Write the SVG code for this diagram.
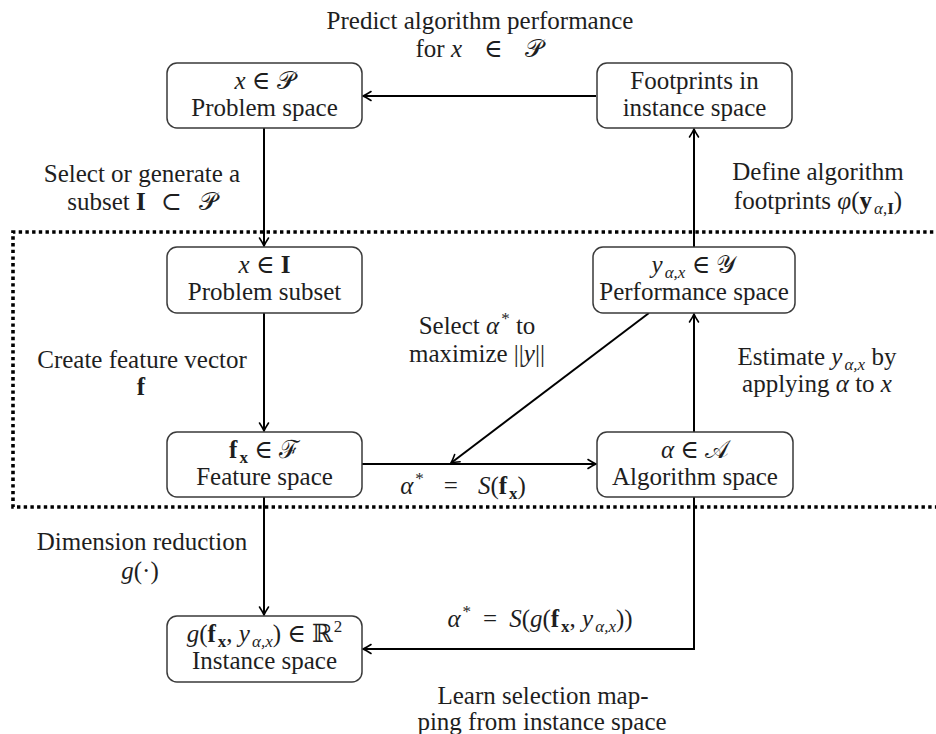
<svg xmlns="http://www.w3.org/2000/svg" width="936" height="734" viewBox="0 0 936 734">
<defs>
<style>
.box{fill:#fff;stroke:#3a3a3a;stroke-width:1.5}
.t{font-family:'Liberation Serif','Times New Roman','DejaVu Serif',serif;font-size:25px;fill:#1e1e1e;text-anchor:middle}
.i{font-style:italic}
.b{font-weight:bold}
.s{font-size:17px}
.c{stroke:#000;stroke-width:2;fill:none;marker-end:url(#arr)}
.dot{stroke:#000;stroke-width:3.6;stroke-dasharray:3.4 3.3;fill:none}
</style>
<marker id="arr" markerUnits="userSpaceOnUse" viewBox="-10 -6 12 12" refX="0" refY="0" markerWidth="12" markerHeight="12" orient="auto" overflow="visible">
<path d="M -8 -4.5 C -5 -2.5 -2 -0.8 0 0 C -2 0.8 -5 2.5 -8 4.5" fill="none" stroke="#000" stroke-width="1.6" stroke-linecap="round"/>
</marker>
</defs>
<rect width="936" height="734" fill="#fff"/>

<g id="frame">
<path class="dot" d="M 940 232 H 13 V 507 H 940"/>
</g>

<g id="connectors">
<line class="c" x1="596" y1="96" x2="363" y2="96"/>
<line class="c" x1="264" y1="128" x2="264" y2="246"/>
<line class="c" x1="264" y1="313" x2="264" y2="431"/>
<line class="c" x1="362" y1="464" x2="596" y2="464"/>
<line class="c" x1="694" y1="432" x2="694" y2="314"/>
<line class="c" x1="694" y1="247" x2="694" y2="129"/>
<line class="c" x1="649" y1="313" x2="451" y2="463"/>
<line class="c" x1="264" y1="497" x2="264" y2="615"/>
<path class="c" d="M 694 497 V 649 H 363"/>
</g>

<g id="labels">
<text class="t" x="480" y="29">Predict algorithm performance</text>
<text class="t" x="479" y="57">for <tspan class="i">x</tspan><tspan dx="22">∈</tspan><tspan dx="22">𝒫</tspan></text>
<text class="t" x="142" y="182">Select or generate a</text>
<text class="t" x="142" y="210">subset <tspan class="b">I</tspan><tspan dx="15">⊂</tspan><tspan dx="17">𝒫</tspan></text>
<text class="t" x="818" y="180">Define algorithm</text>
<text class="t" x="818" y="209">footprints <tspan class="i">φ</tspan>(<tspan class="b">y</tspan><tspan class="s" dx="2" dy="5"><tspan class="i">α</tspan>,<tspan class="b">I</tspan></tspan><tspan dy="-5">)</tspan></text>
<text class="t" x="142" y="368">Create feature vector</text>
<text class="t b" x="141" y="395">f</text>
<text class="t" x="477" y="334">Select <tspan class="i">α</tspan><tspan class="s" dx="2" dy="-10">*</tspan><tspan dy="10"> to</tspan></text>
<text class="t" x="477" y="362">maximize ||<tspan class="i">y</tspan>||</text>
<text class="t" x="817" y="365">Estimate <tspan class="i">y</tspan><tspan class="s i" dx="2" dy="5">α,x</tspan><tspan dy="-5"> by</tspan></text>
<text class="t" x="817" y="392">applying <tspan class="i">α</tspan> to <tspan class="i">x</tspan></text>
<text class="t" x="463" y="494"><tspan class="i">α</tspan><tspan class="s" dx="2" dy="-10">*</tspan><tspan dx="20" dy="10">=</tspan><tspan class="i" dx="20">S</tspan>(<tspan class="b">f</tspan><tspan class="s b" dx="2" dy="5">x</tspan><tspan dy="-5">)</tspan></text>
<text class="t" x="142" y="550">Dimension reduction</text>
<text class="t" x="140" y="579"><tspan class="i">g</tspan>(·)</text>
<text class="t" x="540" y="627"><tspan class="i">α</tspan><tspan class="s" dx="2" dy="-10">*</tspan><tspan dx="12" dy="10">=</tspan><tspan class="i" dx="12">S</tspan>(<tspan class="i">g</tspan>(<tspan class="b">f</tspan><tspan class="s b" dx="2" dy="5">x</tspan><tspan dy="-5">, </tspan><tspan class="i">y</tspan><tspan class="s i" dx="2" dy="5">α,x</tspan><tspan dy="-5">))</tspan></text>
<text class="t" x="543" y="704">Learn selection map-</text>
<text class="t" x="542" y="730">ping from instance space</text>
</g>

<g id="problem-space">
<rect class="box" x="167" y="63" width="195" height="65" rx="10"/>
<text class="t" x="264.5" y="89"><tspan class="i">x</tspan> ∈ 𝒫</text>
<text class="t" x="264.5" y="116">Problem space</text>
</g>

<g id="footprints">
<rect class="box" x="597" y="63" width="195" height="65" rx="10"/>
<text class="t" x="694.5" y="89">Footprints in</text>
<text class="t" x="694.5" y="116">instance space</text>
</g>

<g id="problem-subset">
<rect class="box" x="167" y="247" width="195" height="66" rx="10"/>
<text class="t" x="264.5" y="273"><tspan class="i">x</tspan> ∈ <tspan class="b">I</tspan></text>
<text class="t" x="264.5" y="300">Problem subset</text>
</g>

<g id="performance-space">
<rect class="box" x="593" y="247" width="202" height="66" rx="10"/>
<text class="t" x="694" y="273"><tspan class="i">y</tspan><tspan class="s i" dx="2" dy="5">α,x</tspan><tspan dy="-5"> ∈ 𝒴</tspan></text>
<text class="t" x="694" y="300">Performance space</text>
</g>

<g id="feature-space">
<rect class="box" x="167" y="432" width="195" height="65" rx="10"/>
<text class="t" x="264.5" y="458"><tspan class="b">f</tspan><tspan class="s b" dx="2" dy="5">x</tspan><tspan dy="-5"> ∈ ℱ</tspan></text>
<text class="t" x="264.5" y="485">Feature space</text>
</g>

<g id="algorithm-space">
<rect class="box" x="597" y="432" width="196" height="65" rx="10"/>
<text class="t" x="695" y="458"><tspan class="i">α</tspan> ∈ 𝒜</text>
<text class="t" x="695" y="485">Algorithm space</text>
</g>

<g id="instance-space">
<rect class="box" x="167" y="616" width="195" height="66" rx="10"/>
<text class="t" x="264.5" y="642"><tspan class="i">g</tspan>(<tspan class="b">f</tspan><tspan class="s b" dx="2" dy="5">x</tspan><tspan dy="-5">, </tspan><tspan class="i">y</tspan><tspan class="s i" dx="2" dy="5">α,x</tspan><tspan dy="-5">) ∈ ℝ</tspan><tspan class="s" dx="1" dy="-10">2</tspan></text>
<text class="t" x="264.5" y="669">Instance space</text>
</g>
</svg>
